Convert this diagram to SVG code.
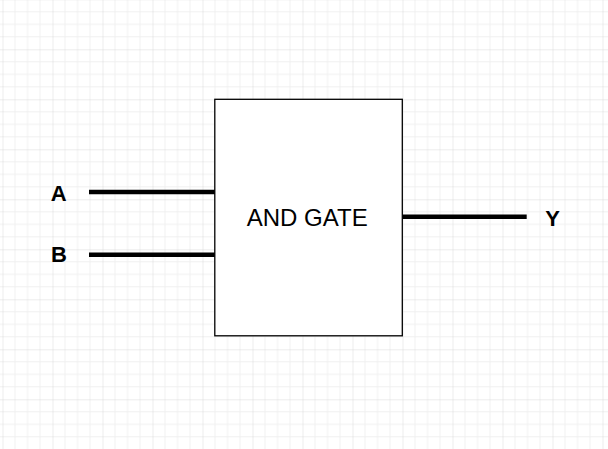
<svg xmlns="http://www.w3.org/2000/svg" width="608" height="449" viewBox="0 0 608 449">
<defs>
<pattern id="grid" patternUnits="userSpaceOnUse" x="2.5" y="-0.7" width="50" height="50">
<path d="M12.5 0V50M25 0V50M37.5 0V50M0 12.5H50M0 25H50M0 37.5H50" stroke="#f0f0f0" stroke-width="1" fill="none"/>
<path d="M0 0V50M0 0H50" stroke="#d9d9d9" stroke-width="1" fill="none"/>
</pattern>
<style>
.wire{stroke:#000;stroke-width:4.5;fill:none}
.lbl{font-family:"Liberation Sans",Arial,sans-serif;font-weight:bold;font-size:22px;fill:#000}
.gate{fill:#fff;stroke:#000;stroke-width:1.3}
.gtxt{font-family:"Liberation Sans",Arial,sans-serif;font-size:24px;fill:#000}
</style>
</defs>
<rect width="608" height="449" fill="#fff"/>
<rect width="608" height="449" fill="url(#grid)"/>
<g id="connectors">
<line class="wire" x1="89" y1="192" x2="215" y2="192"/>
<line class="wire" x1="89" y1="254.7" x2="215" y2="254.7"/>
<line class="wire" x1="402.3" y1="216.7" x2="526.7" y2="216.7"/>
</g>
<g id="gate">
<rect class="gate" x="214.8" y="99.3" width="187.5" height="236.5"/>
<text class="gtxt" x="307.2" y="226" text-anchor="middle">AND GATE</text>
</g>
<g id="input-a"><text class="lbl" x="58.8" y="200.7" text-anchor="middle">A</text></g>
<g id="input-b"><text class="lbl" x="59" y="261.7" text-anchor="middle">B</text></g>
<g id="output-y"><text class="lbl" x="552.7" y="225.7" text-anchor="middle">Y</text></g>
</svg>
